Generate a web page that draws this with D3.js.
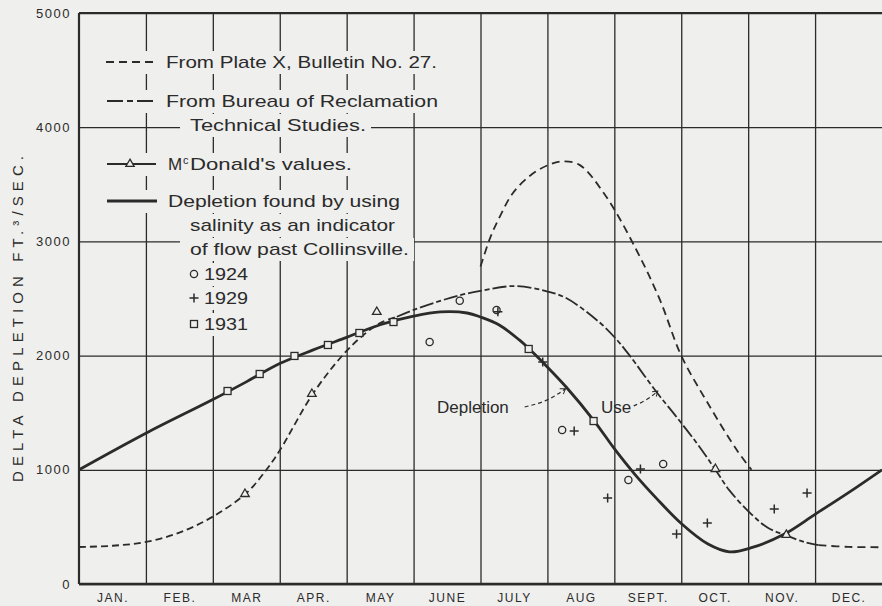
<!DOCTYPE html>
<html>
<head>
<meta charset="utf-8">
<script src="https://cdn.jsdelivr.net/npm/d3@7"></script>
<style>
    body { margin: 0; background: #efefed; }
    svg { display: block; font-family: "Liberation Sans", Arial, sans-serif; }
</style>
</head>
<body>
<div id="chart"></div>
<script>
// months along the bottom, one grid cell each
const monthLabels = ["JAN.", "FEB.", "MAR", "APR.", "MAY", "JUNE", "JULY", "AUG", "SEPT.", "OCT.", "NOV.", "DEC."]
const yTicks = [0, 1000, 2000, 3000, 4000, 5000]
const yLabel = "DELTA DEPLETION FT.³/SEC."

// curves: [month, ft3/sec]
const depletionCurve = [[0, 1000], [1, 1320], [2, 1615], [2.5, 1770], [3, 1930], [3.5, 2050], [4, 2160], [4.5, 2270],
    [5, 2345], [5.4, 2382], [5.8, 2373], [6, 2338], [6.28, 2268], [6.58, 2137], [6.73, 2058], [6.95, 1930],
    [7.28, 1725], [7.7, 1427], [8.0, 1185], [8.3, 965], [8.63, 750], [9, 530], [9.4, 350], [9.72, 282],
    [10.05, 318], [10.55, 440], [11, 610], [11.5, 800], [12, 1000]]
const useCurve = [[4.75, 2340], [5.0, 2400], [5.35, 2470], [5.7, 2530], [6.0, 2566], [6.5, 2609], [6.95, 2570],
    [7.28, 2504], [7.79, 2285], [8.04, 2137], [8.23, 2000], [8.63, 1681], [8.93, 1462], [9.23, 1235], [9.5, 1010],
    [9.72, 820], [10.05, 610], [10.3, 490], [10.55, 430], [10.85, 365], [11.05, 340]]
const plateXEarly = [[0, 324], [0.5, 335], [1, 368], [1.5, 450], [2, 590], [2.5, 795], [2.8, 1000], [3, 1170], [3.5, 1670],
    [3.95, 2010], [4.25, 2180], [4.5, 2285], [4.75, 2340]]
const plateXPeak = [[6.0, 2780], [6.15, 3040], [6.3, 3230], [6.48, 3420], [6.75, 3580], [7.0, 3665], [7.22, 3700],
    [7.48, 3670], [7.88, 3390], [8.33, 2925], [8.68, 2490], [9.0, 2000], [9.4, 1580], [9.83, 1173], [10.05, 1000]]
const plateXTail = [[11.05, 340], [11.5, 325], [12, 322]]

// plotted points
const mcDonaldValues = [[2.48, 788], [3.48, 1664], [4.45, 2382], [9.51, 1007], [10.57, 430]]
const points1924 = [[5.24, 2119], [5.69, 2480], [6.24, 2399], [7.22, 1349], [8.21, 911], [8.73, 1051]]
const points1929 = [[6.26, 2385], [6.93, 1944], [7.40, 1340], [7.90, 753], [8.39, 1007], [8.93, 438], [9.39, 534], [10.39, 657], [10.88, 797]]
const points1931 = [[2.22, 1690], [2.70, 1839], [3.22, 1997], [3.72, 2093], [4.19, 2198], [4.70, 2294], [6.72, 2058], [7.69, 1427]]

const legendLabels = ["From Plate X, Bulletin No. 27.", "From Bureau of Reclamation", "Technical Studies.",
    "Donald's values.", "Depletion found by using", "salinity as an indicator", "of flow past Collinsville.",
    "1924", "1929", "1931"]

const ink = "#2b2b2b"
const paper = "#efefed"

const renderChart = (htmlComponent) => {
    const margin = { top: 13, right: 0, bottom: 22, left: 79 }
    const width = 882 - margin.left - margin.right
    const height = 606 - margin.top - margin.bottom

    const svgRoot = d3.select(htmlComponent).append("svg")
        .attr("width", 882)
        .attr("height", 606)
    svgRoot.append("rect").attr("width", 882).attr("height", 606).attr("fill", paper)

    const svg = svgRoot.append("g")
        .attr("transform", `translate(${margin.left}, ${margin.top})`)

    const x = d3.scaleLinear().domain([0, 12]).range([0, width])
    const y = d3.scaleLinear().domain([0, 5000]).range([height, 0])

    // horizontal grid + y tick labels
    const yAxis = svg.append("g")
        .call(d3.axisLeft(y).tickValues(yTicks).tickSize(-width).tickPadding(8).tickFormat(d3.format("d")))
    yAxis.select(".domain").remove()
    yAxis.selectAll("line").attr("stroke", ink).attr("stroke-width", 1.3)
    yAxis.selectAll("text")
        .attr("fill", ink)
        .style("font-size", "13px")
        .style("letter-spacing", "1.5px")

    // vertical grid at month boundaries
    const xGrid = svg.append("g")
        .call(d3.axisBottom(x).tickValues(d3.range(1, 12)).tickSize(height).tickFormat(""))
    xGrid.select(".domain").remove()
    xGrid.selectAll("line").attr("stroke", ink).attr("stroke-width", 1.3)

    // month names centred in each cell
    const xAxis = svg.append("g")
        .attr("transform", `translate(0, ${height})`)
        .call(d3.axisBottom(x).tickValues(d3.range(0.5, 12, 1)).tickSize(0).tickPadding(9)
            .tickFormat(d => monthLabels[Math.floor(d)]))
    xAxis.select(".domain").remove()
    xAxis.selectAll("text")
        .attr("fill", ink)
        .style("font-size", "12px")
        .style("letter-spacing", "1.5px")

    // frame
    svg.append("line").attr("x1", 0).attr("x2", 0).attr("y1", 0).attr("y2", height)
        .attr("stroke", ink).attr("stroke-width", 2.2)
    svg.append("line").attr("x1", 0).attr("x2", width).attr("y1", height).attr("y2", height)
        .attr("stroke", ink).attr("stroke-width", 2.6)
    svg.append("line").attr("x1", 0).attr("x2", width).attr("y1", 0).attr("y2", 0)
        .attr("stroke", ink).attr("stroke-width", 2)

    svgRoot.append("text")
        .attr("transform", "translate(23, 319) rotate(-90)")
        .attr("text-anchor", "middle")
        .attr("fill", ink)
        .attr("textLength", 326)
        .attr("lengthAdjust", "spacing")
        .style("font-size", "15px")
        .text(yLabel)

    // legend (page coordinates); paper boxes break the grid like on the plate
    const legendLayout = [
        { x: 166, y: 68, end: 437, symbol: "plateX" },
        { x: 166, y: 107, end: 438, symbol: "bureau" },
        { x: 190, y: 131, end: 366 },
        { x: 181, y: 170, end: 352, symbol: "mcdonald" },
        { x: 168, y: 207, end: 400, symbol: "depletion" },
        { x: 190, y: 231, end: 395 },
        { x: 190, y: 255, end: 409 },
        { x: 204, y: 280, end: 248, marker: "circle" },
        { x: 204, y: 304, end: 248, marker: "plus" },
        { x: 204, y: 330, end: 248, marker: "square" }
    ]
    const legend = svgRoot.append("g")
    legendLayout.forEach(row => {
        const left = row.symbol ? 100 : (row.marker ? 185 : row.x - 10)
        legend.append("rect")
            .attr("x", left).attr("y", row.y - 17)
            .attr("width", row.end - left + 5).attr("height", 23)
            .attr("fill", paper)
    })
    legendLayout.forEach((row, i) => {
        const t = legend.append("text")
            .attr("x", row.x).attr("y", row.y)
            .attr("fill", ink)
            .style("font-size", "17px")
            .attr("textLength", row.end - row.x)
            .attr("lengthAdjust", "spacingAndGlyphs")
            .text(legendLabels[i])
        const sy = row.y - 6
        if (row.symbol === "plateX") {
            legend.append("line").attr("x1", 106).attr("x2", 156).attr("y1", sy).attr("y2", sy)
                .attr("stroke", ink).attr("stroke-width", 1.8).attr("stroke-dasharray", "8,5")
        } else if (row.symbol === "bureau") {
            legend.append("line").attr("x1", 107).attr("x2", 156).attr("y1", sy).attr("y2", sy)
                .attr("stroke", ink).attr("stroke-width", 1.8).attr("stroke-dasharray", "16,4,6,4")
        } else if (row.symbol === "mcdonald") {
            legend.append("line").attr("x1", 107).attr("x2", 156).attr("y1", sy).attr("y2", sy)
                .attr("stroke", ink).attr("stroke-width", 1.8)
            legend.append("path").attr("d", d3.symbol(d3.symbolTriangle, 30)())
                .attr("transform", `translate(130, ${sy})`)
                .attr("fill", paper).attr("stroke", ink).attr("stroke-width", 1.3)
            legend.append("text")
                .attr("x", 168).attr("y", row.y).attr("fill", ink).style("font-size", "17px").text("M")
            legend.append("text")
                .attr("x", 183).attr("y", row.y - 6).attr("fill", ink).style("font-size", "11px").text("c")
            t.attr("x", row.x + 9).attr("textLength", row.end - row.x - 9)
        } else if (row.symbol === "depletion") {
            legend.append("line").attr("x1", 107).attr("x2", 157).attr("y1", sy).attr("y2", sy)
                .attr("stroke", ink).attr("stroke-width", 2.8)
        }
        if (row.marker) {
            drawMarker(legend, row.marker, 194, row.y - 6)
        }
    })

    // curves
    const line = d3.line()
        .x(d => x(d[0]))
        .y(d => y(d[1]))
        .curve(d3.curveCatmullRom.alpha(0.5))
    const curves = [
        { data: plateXEarly, dash: "7,4", w: 1.8 },
        { data: plateXPeak, dash: "8,5", w: 1.8 },
        { data: plateXTail, dash: "8,5", w: 1.8 },
        { data: useCurve, dash: "14,3,5,3", w: 1.8 },
        { data: depletionCurve, dash: null, w: 2.8 }
    ]
    curves.forEach(c => {
        svg.append("path")
            .datum(c.data)
            .attr("d", line)
            .attr("fill", "none")
            .attr("stroke", ink)
            .attr("stroke-width", c.w)
            .attr("stroke-dasharray", c.dash)
    })

    mcDonaldValues.forEach(d => drawMarker(svg, "triangle", x(d[0]), y(d[1])))
    points1924.forEach(d => drawMarker(svg, "circle", x(d[0]), y(d[1])))
    points1929.forEach(d => drawMarker(svg, "plus", x(d[0]), y(d[1])))
    points1931.forEach(d => drawMarker(svg, "square", x(d[0]), y(d[1])))

    // "Depletion" and "Use" call-outs with dashed arrows
    svgRoot.append("defs").append("marker")
        .attr("id", "arrow")
        .attr("viewBox", "-6 -5 8 10")
        .attr("markerWidth", 8).attr("markerHeight", 8)
        .attr("orient", "auto")
        .attr("markerUnits", "userSpaceOnUse")
        .append("path")
        .attr("d", "M-6,-4L0,0L-6,4")
        .attr("fill", "none").attr("stroke", ink).attr("stroke-width", 1.2)

    const callouts = [
        { label: "Depletion", at: [5.35, 1500], arrow: [[6.66, 1550], [7.0, 1600], [7.27, 1710]] },
        { label: "Use", at: [7.8, 1497], arrow: [[8.29, 1560], [8.49, 1610], [8.65, 1690]] }
    ]
    const arrowLine = d3.line().x(d => x(d[0])).y(d => y(d[1])).curve(d3.curveBasis)
    callouts.forEach(c => {
        svg.append("text")
            .attr("x", x(c.at[0])).attr("y", y(c.at[1]))
            .attr("fill", ink)
            .style("font-size", "17px")
            .text(c.label)
        svg.append("path")
            .datum(c.arrow)
            .attr("d", arrowLine)
            .attr("fill", "none")
            .attr("stroke", ink)
            .attr("stroke-width", 1.2)
            .attr("stroke-dasharray", "4,3")
            .attr("marker-end", "url(#arrow)")
    })
}

function drawMarker(parent, type, cx, cy) {
    if (type === "circle") {
        parent.append("circle").attr("cx", cx).attr("cy", cy).attr("r", 3.6)
            .attr("fill", paper).attr("stroke", ink).attr("stroke-width", 1.3)
    } else if (type === "plus") {
        parent.append("path").attr("d", `M${cx - 4.5},${cy}H${cx + 4.5}M${cx},${cy - 4.5}V${cy + 4.5}`)
            .attr("stroke", ink).attr("stroke-width", 1.5)
    } else if (type === "square") {
        parent.append("rect").attr("x", cx - 3.5).attr("y", cy - 3.5).attr("width", 7).attr("height", 7)
            .attr("fill", paper).attr("stroke", ink).attr("stroke-width", 1.3)
    } else if (type === "triangle") {
        parent.append("path").attr("d", d3.symbol(d3.symbolTriangle, 32)())
            .attr("transform", `translate(${cx}, ${cy})`)
            .attr("fill", paper).attr("stroke", ink).attr("stroke-width", 1.3)
    }
}

renderChart("#chart")
</script>
</body>
</html>
